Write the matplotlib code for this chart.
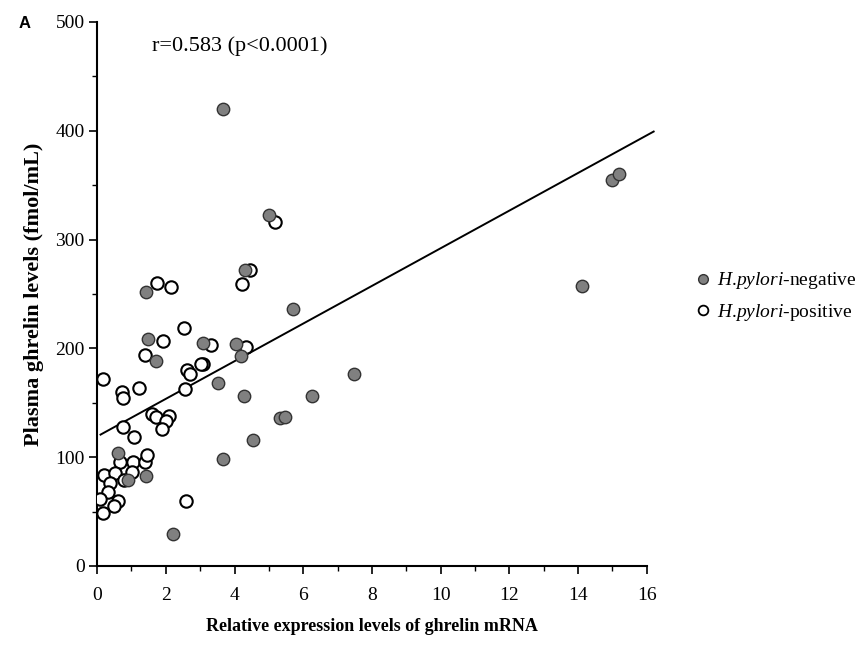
import matplotlib
matplotlib.use("Agg")
import matplotlib.pyplot as plt
from matplotlib.lines import Line2D
from matplotlib.ticker import MultipleLocator

plt.rcParams['font.family'] = ['Liberation Serif', 'DejaVu Serif']
plt.rcParams['mathtext.fontset'] = 'custom'
plt.rcParams['mathtext.rm'] = 'Liberation Serif'
plt.rcParams['mathtext.it'] = 'Liberation Serif:italic'

# H. pylori-negative (filled)
neg_x = [3.67, 5.0, 4.3, 5.7, 3.08, 4.04, 4.19, 7.48, 3.52, 4.28, 6.25, 5.32, 5.47,
         4.54, 3.67, 15.0, 15.2, 14.1, 1.43, 1.48, 1.72, 0.6, 0.9, 1.43, 2.2]
neg_y = [420, 323, 272, 236, 205, 204, 193, 176, 168, 156, 156, 136, 137,
         116, 98, 355, 360, 257, 252, 209, 188, 104, 79, 83, 29]

# H. pylori-positive (open)
pos_x = [5.18, 4.45, 4.22, 3.32, 4.33, 3.08, 1.75, 2.15, 2.53, 1.92, 0.17, 0.73, 0.76,
         1.22, 1.40, 3.03, 2.62, 2.7, 2.55, 1.6, 1.7, 2.1, 2.0, 1.9, 0.76, 1.08, 0.67,
         1.05, 1.4, 1.45, 1.02, 0.2, 0.52, 0.79, 0.38, 0.32, 0.09, 0.61, 0.49, 0.17, 2.59]
pos_y = [316, 272, 259, 203, 201, 186, 260, 256, 219, 207, 172, 160, 154,
         164, 194, 186, 180, 176, 163, 140, 137, 138, 133, 126, 128, 119, 96,
         96, 96, 102, 86, 84, 85, 79, 76, 68, 62, 60, 55, 49, 60]

# regression line
fit_intercept = 119
fit_slope = 17.3
fit_x = [0.1, 16.2]

fig = plt.figure(figsize=(8.67, 6.45), dpi=100)
ax = fig.add_axes([0.112, 0.1225, 0.634, 0.8435])

ax.scatter(pos_x, pos_y, s=80, facecolor='white', edgecolor='black', linewidth=1.5, zorder=3)
ax.scatter(neg_x, neg_y, s=80, facecolor='#808080', edgecolor='#333333', linewidth=1.0, zorder=4)
ax.plot(fit_x, [fit_intercept + fit_slope * x for x in fit_x], color='black', lw=1.4, zorder=2,
        clip_on=False)

ax.set_xlim(0, 16)
ax.set_ylim(0, 500)
ax.xaxis.set_major_locator(MultipleLocator(2))
ax.xaxis.set_minor_locator(MultipleLocator(1))
ax.yaxis.set_major_locator(MultipleLocator(100))
ax.yaxis.set_minor_locator(MultipleLocator(50))
ax.tick_params(which='major', direction='out', length=6, width=1.2, labelsize=14)
ax.tick_params(axis='x', which='major', pad=9)
ax.tick_params(axis='y', which='major', pad=3)
ax.tick_params(which='minor', direction='out', length=3.5, width=1.0)
for s in ['top', 'right']:
    ax.spines[s].set_visible(False)
for s in ['left', 'bottom']:
    ax.spines[s].set_linewidth(1.5)

ax.set_xlabel('Relative expression levels of ghrelin mRNA', fontsize=13, fontweight='bold', labelpad=10)
ax.set_ylabel('Plasma ghrelin levels (fmol/mL)', fontsize=16, fontweight='bold', labelpad=8)

ax.text(0.1, 0.955, 'r=0.583 (p<0.0001)', transform=ax.transAxes, fontsize=16, va='center')
fig.text(0.022, 0.963, 'A', fontsize=12, fontweight='bold', family=['Liberation Sans'], va='center')

handles = [
    Line2D([], [], ls='', marker='o', ms=7, mfc='#808080', mec='#333333', mew=1.0),
    Line2D([], [], ls='', marker='o', ms=7, mfc='white', mec='black', mew=1.3),
]
labels = [r'$\it{H}$.$\it{pylori}$-negative', r'$\it{H}$.$\it{pylori}$-positive']
fig.legend(handles, labels, loc='center left', bbox_to_anchor=(0.78, 0.54), frameon=False,
           fontsize=14, handletextpad=0.2, labelspacing=0.55, handlelength=1.0)

fig.savefig('out.png', dpi=100)
